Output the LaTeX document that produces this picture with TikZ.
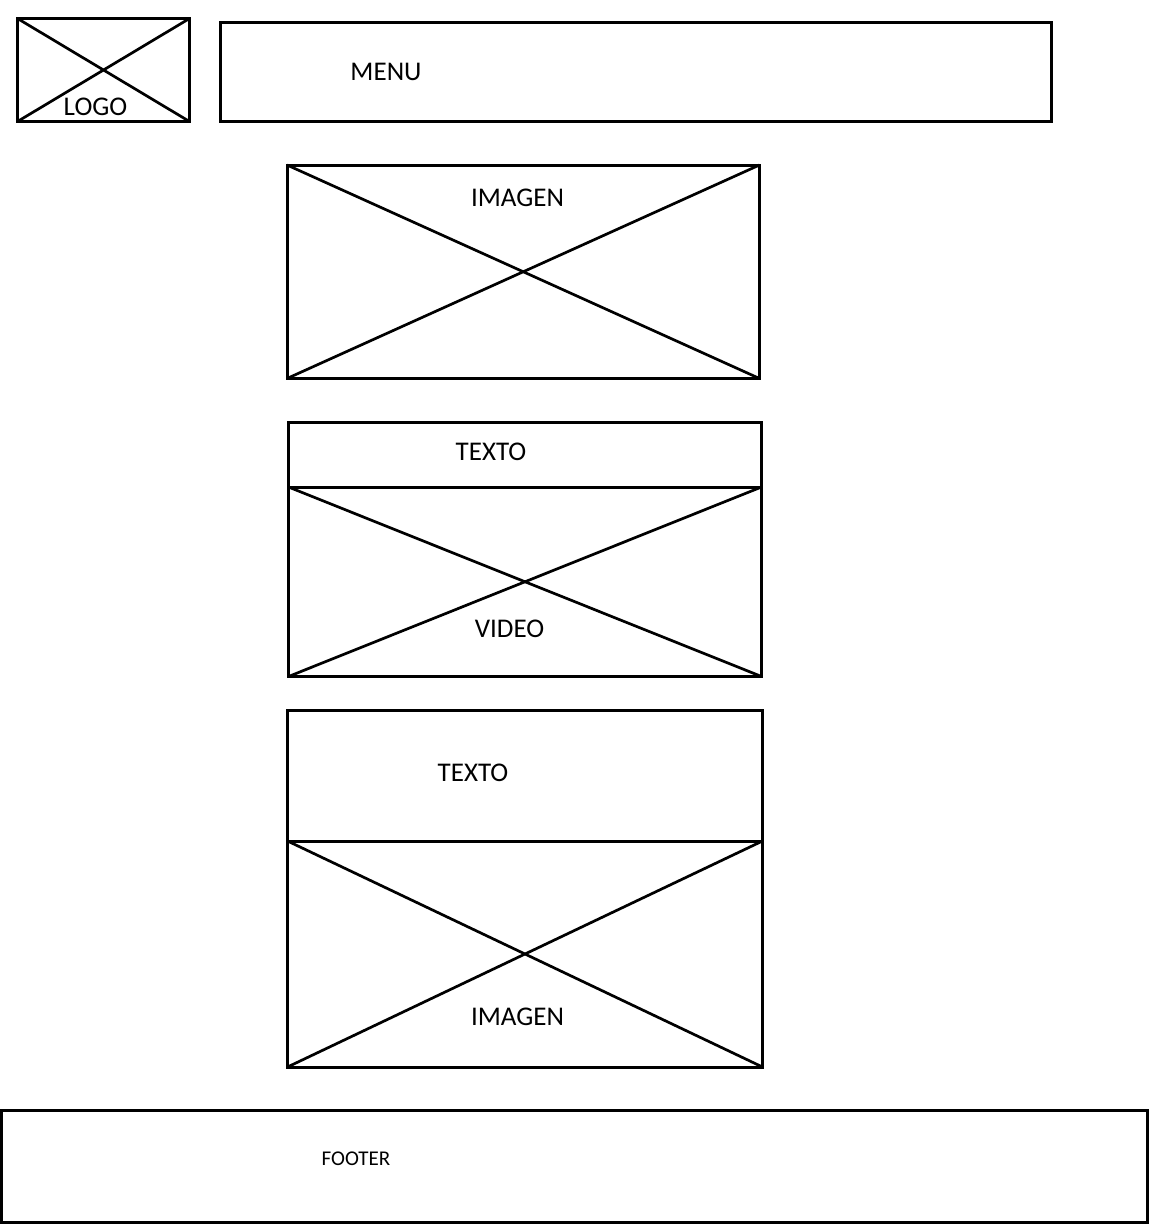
\documentclass[tikz,border=0pt]{standalone}
\usepackage{fontspec}
\setmainfont{Carlito}
\begin{document}
\begin{tikzpicture}[x=1pt,y=-1pt,
  frame/.style={draw=black,line width=3pt,rectangle,inner sep=0pt,outer sep=0pt},
  crossline/.style={draw=black,line width=2.7pt},
  lbl/.style={inner sep=0pt,font=\fontsize{27}{31}\selectfont},
  small/.style={inner sep=0pt,font=\fontsize{21}{25}\selectfont}]
\useasboundingbox (0,0) rectangle (1154,1229);
% boxes
\node[frame,minimum width=172pt,minimum height=103pt] (logo) at (103.5,70) {};
\node[frame,minimum width=831pt,minimum height=99pt] (menu) at (636,72) {};
\node[frame,minimum width=472.5pt,minimum height=213.5pt] (img1) at (523.25,271.75) {};
\node[frame,minimum width=473pt,minimum height=64.5pt] (txt1) at (525,454.75) {};
\node[frame,minimum width=473pt,minimum height=189.5pt] (vid) at (525,581.75) {};
\node[frame,minimum width=475pt,minimum height=131pt] (txt2) at (525,775.5) {};
\node[frame,minimum width=475pt,minimum height=226pt] (img2) at (525,954) {};
\node[frame,minimum width=1146pt,minimum height=112pt] (footer) at (574.5,1166.5) {};
% crosses
\foreach \b in {logo,img1,vid,img2}{
  \draw[crossline] (\b.north west) -- (\b.south east);
  \draw[crossline] (\b.south west) -- (\b.north east);
}
% labels
\node[lbl] (tlogo) at (95.5,106.5) {LOGO};
\node[lbl] (tmenu) at (386,72) {MENU};
\node[lbl] (timg1) at (517.5,197.5) {IMAGEN};
\node[lbl] (ttxt1) at (491,452) {TEXTO};
\node[lbl] (tvid) at (509.5,629) {VIDEO};
\node[lbl] (ttxt2) at (473,773) {TEXTO};
\node[lbl] (timg2) at (517.5,1016.5) {IMAGEN};
\node[small] (tfooter) at (356,1159) {FOOTER};
\end{tikzpicture}
\end{document}
